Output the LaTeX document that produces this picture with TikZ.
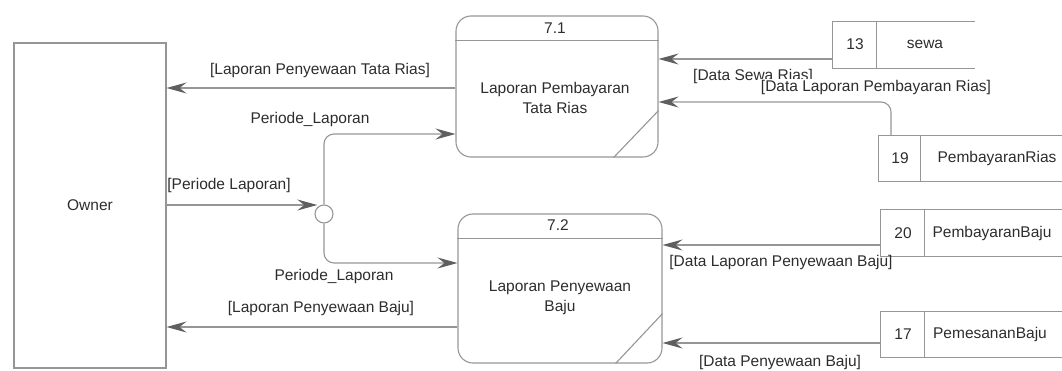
\documentclass[tikz,border=0pt]{standalone}
\usepackage{fontspec}
\setmainfont{Liberation Sans}
\usetikzlibrary{arrows.meta}
\definecolor{linec}{RGB}{150,150,150}
\definecolor{tipc}{RGB}{95,95,95}
\definecolor{txtc}{RGB}{45,45,45}
\begin{document}
\begin{tikzpicture}[x=1pt,y=-1pt,
  every node/.style={font=\fontsize{15.5}{20}\selectfont, text=txtc, inner sep=0pt},
  flow/.style={draw=linec, line width=1.1pt, -{Stealth[length=20pt,width=11pt,inset=7pt,color=tipc]}},
  entity/.style={draw=linec, line width=1.1pt, rectangle},
  proc/.style={draw=linec, line width=1.1pt, rectangle, rounded corners=15pt},
  storebox/.style={rectangle, draw=none},
  stline/.style={draw=linec, line width=1.1pt},
  lbl/.style={fill=none},
  wlbl/.style={fill=white, inner sep=1pt}]
\useasboundingbox (0,0) rectangle (1062,371);

% entity
\node[entity, minimum width=152pt, minimum height=325pt] (owner) at (90,205.5) {};
\node (ownert) at (90,205) {Owner};

% processes
\node[proc, minimum width=202pt, minimum height=141pt] (p1) at (557,86.5) {};
\draw[stline] ([yshift=-25pt]p1.north west) -- ([yshift=-25pt]p1.north east);
\draw[stline] ([xshift=-45pt]p1.south east) -- ([yshift=47pt]p1.south east);
\node (p1id) at (555,28) {7.1};
\node[align=center] (p1t) at (555,98) {Laporan Pembayaran\\Tata Rias};

\node[proc, minimum width=204pt, minimum height=149pt] (p2) at (560,288.5) {};
\draw[stline] ([yshift=-25pt]p2.north west) -- ([yshift=-25pt]p2.north east);
\draw[stline] ([xshift=-47pt]p2.south east) -- ([yshift=50pt]p2.south east);
\node (p2id) at (558,225) {7.2};
\node[align=center] (p2t) at (560,298) {Laporan Penyewaan\\Baju};

% junction
\node[draw=linec, line width=1.1pt, circle, minimum size=18pt, fill=white] (j) at (324,214) {};

% data stores
\node[storebox, minimum width=142pt, minimum height=46pt] (s13) at (904,45) {};
\draw[stline] (s13.north east) -- (s13.north west) -- (s13.south west) -- (s13.south east);
\draw[stline] ([xshift=44pt]s13.north west) -- ([xshift=44pt]s13.south west);
\node (s13id) at (855,44) {13};
\node (s13t) at (925,44) {sewa};

\node[storebox, minimum width=183pt, minimum height=45pt] (s19) at (970.5,158.5) {};
\draw[stline] (s19.north east) -- (s19.north west) -- (s19.south west) -- (s19.south east);
\draw[stline] ([xshift=42pt]s19.north west) -- ([xshift=42pt]s19.south west);
\node (s19id) at (900,158) {19};
\node (s19t) at (997,158) {PembayaranRias};

\node[storebox, minimum width=181pt, minimum height=46pt] (s20) at (971.5,233) {};
\draw[stline] (s20.north east) -- (s20.north west) -- (s20.south west) -- (s20.south east);
\draw[stline] ([xshift=44pt]s20.north west) -- ([xshift=44pt]s20.south west);
\node (s20id) at (903,233) {20};
\node (s20t) at (992,233) {PembayaranBaju};

\node[storebox, minimum width=181pt, minimum height=45pt] (s17) at (971.5,334.5) {};
\draw[stline] (s17.north east) -- (s17.north west) -- (s17.south west) -- (s17.south east);
\draw[stline] ([xshift=44pt]s17.north west) -- ([xshift=44pt]s17.south west);
\node (s17id) at (903,334) {17};
\node (s17t) at (990,334) {PemesananBaju};

% flows
\draw[flow] (p1.west |- 0,88) -- (owner.east |- 0,88);
\node (l1) at (320,70) {[Laporan Penyewaan Tata Rias]};

\draw[flow] (owner.east |- 0,205) -- (j.135 |- 0,205);
\node (l2) at (229,185) {[Periode Laporan]};

\draw[flow, rounded corners=10pt] (j.north) -- (j.north |- 0,134) -- (p1.west |- 0,134);
\node (l3) at (310,119) {Periode\_Laporan};

\draw[flow, rounded corners=10pt] (j.south) -- (j.south |- 0,263) -- (p2.west |- 0,263);
\node (l4) at (334,276) {Periode\_Laporan};

\draw[flow] (p2.west |- 0,327) -- (owner.east |- 0,327);
\node (l5) at (321,308) {[Laporan Penyewaan Baju]};

\draw[flow] (s13.west |- 0,59) -- (p1.east |- 0,59);
\node[anchor=west] (l6) at (693,76) {[Data Sewa Rias]};

\draw[flow, rounded corners=10pt] (891,136) -- (891,102) -- (p1.east |- 0,102);
\node[wlbl] (l7) at (876,87) {[Data Laporan Pembayaran Rias]};

\draw[flow] (s20.west |- 0,245) -- (p2.east |- 0,245);
\node (l8) at (781,262) {[Data Laporan Penyewaan Baju]};

\draw[flow] (s17.west |- 0,343) -- (p2.east |- 0,343);
\node (l9) at (780,362) {[Data Penyewaan Baju]};
\end{tikzpicture}
\end{document}
